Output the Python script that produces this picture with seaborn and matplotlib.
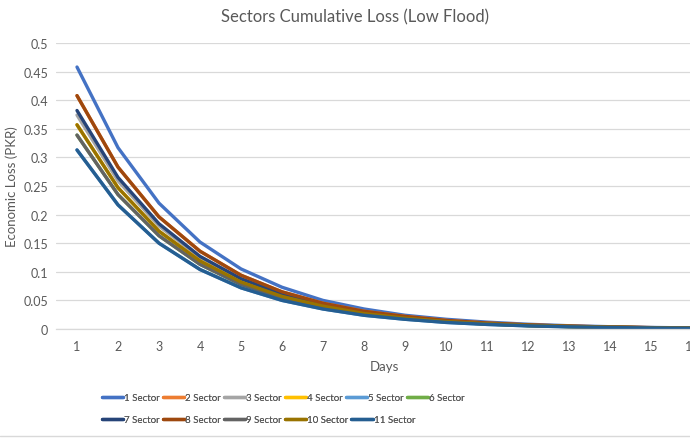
import matplotlib
matplotlib.use("Agg")
import matplotlib.pyplot as plt
from matplotlib.lines import Line2D
import seaborn as sns
import pandas as pd

# Daily cumulative economic loss per sector (low flood scenario)
days = list(range(1, 17))

sector_1 = [0.458, 0.317, 0.220, 0.152, 0.105, 0.073, 0.050, 0.035, 0.024, 0.017, 0.012, 0.0083, 0.0057, 0.0040, 0.0027, 0.0019]
sector_2 = [0.408, 0.283, 0.196, 0.136, 0.094, 0.065, 0.045, 0.031, 0.022, 0.015, 0.0104, 0.0072, 0.0050, 0.0035, 0.0024, 0.0017]
sector_3 = [0.374, 0.259, 0.180, 0.125, 0.086, 0.060, 0.041, 0.029, 0.020, 0.0138, 0.0095, 0.0066, 0.0046, 0.0032, 0.0022, 0.0015]
sector_4 = [0.357, 0.247, 0.171, 0.119, 0.082, 0.057, 0.040, 0.027, 0.019, 0.013, 0.0091, 0.0063, 0.0044, 0.0030, 0.0021, 0.0015]
sector_5 = [0.313, 0.217, 0.150, 0.104, 0.072, 0.050, 0.035, 0.024, 0.017, 0.0115, 0.0080, 0.0055, 0.0038, 0.0026, 0.0018, 0.0013]
sector_6 = [0.339, 0.235, 0.163, 0.113, 0.078, 0.054, 0.038, 0.026, 0.018, 0.0125, 0.0087, 0.0060, 0.0042, 0.0029, 0.0020, 0.0014]
sector_7 = [0.382, 0.265, 0.184, 0.127, 0.088, 0.061, 0.042, 0.029, 0.020, 0.014, 0.0097, 0.0067, 0.0047, 0.0032, 0.0022, 0.0016]
sector_8 = [0.408, 0.283, 0.196, 0.136, 0.094, 0.065, 0.045, 0.031, 0.022, 0.015, 0.0104, 0.0072, 0.0050, 0.0035, 0.0024, 0.0017]
sector_9 = [0.339, 0.235, 0.163, 0.113, 0.078, 0.054, 0.038, 0.026, 0.018, 0.0125, 0.0087, 0.0060, 0.0042, 0.0029, 0.0020, 0.0014]
sector_10 = [0.357, 0.247, 0.171, 0.119, 0.082, 0.057, 0.040, 0.027, 0.019, 0.013, 0.0091, 0.0063, 0.0044, 0.0030, 0.0021, 0.0015]
sector_11 = [0.313, 0.217, 0.150, 0.104, 0.072, 0.050, 0.035, 0.024, 0.017, 0.0115, 0.0080, 0.0055, 0.0038, 0.0026, 0.0018, 0.0013]

sector_names = ["1 Sector", "2 Sector", "3 Sector", "4 Sector", "5 Sector", "6 Sector",
                "7 Sector", "8 Sector", "9 Sector", "10 Sector", "11 Sector"]
sector_values = [sector_1, sector_2, sector_3, sector_4, sector_5, sector_6,
                 sector_7, sector_8, sector_9, sector_10, sector_11]

colors = ["#4472C4", "#ED7D31", "#A5A5A5", "#FFC000", "#5B9BD5", "#70AD47",
          "#264478", "#9E480E", "#636363", "#997300", "#255E91"]

rows = []
for name, vals in zip(sector_names, sector_values):
    for d, v in zip(days, vals):
        rows.append({"Days": d, "Loss": v, "Sector": name})
df = pd.DataFrame(rows)

sns.set_theme(style="white")
plt.rcParams["font.family"] = ["Lato", "DejaVu Sans"]

W, H = 690, 439
fig = plt.figure(figsize=(W / 100, H / 100), dpi=100)
# plot area runs past the right edge of the canvas
left_px, right_px, top_px, bottom_px = 56.5, 712.5, 44, 330
ax = fig.add_axes([left_px / W, 1 - bottom_px / H,
                   (right_px - left_px) / W, (bottom_px - top_px) / H])

sns.lineplot(data=df, x="Days", y="Loss", hue="Sector", hue_order=sector_names,
             palette=colors, linewidth=2.4, ax=ax, legend=False)

ax.set_xlim(0.5, 16.5)
ax.set_ylim(0, 0.5)
ax.set_xticks(days)
ax.set_xticklabels([str(d) for d in days])
yt = [i * 0.05 for i in range(11)]
ax.set_yticks(yt)
ax.set_yticklabels(["0", "0.05", "0.1", "0.15", "0.2", "0.25", "0.3", "0.35", "0.4", "0.45", "0.5"])
ax.grid(axis="y", color="#D9D9D9", linewidth=0.9)
ax.set_axisbelow(True)
for s in ["top", "right", "left"]:
    ax.spines[s].set_visible(False)
ax.spines["bottom"].set_color("#D9D9D9")
ax.spines["bottom"].set_linewidth(0.9)
ax.tick_params(axis="both", length=0, labelsize=9, colors="#595959")
ax.tick_params(axis="x", pad=8)
ax.tick_params(axis="y", pad=6)

ax.set_xlabel("Days", fontsize=9.5, color="#595959", labelpad=6)
ax.set_ylabel("")
fig.text(12 / W, 1 - 187 / H, "Economic Loss (PKR)", rotation=90, ha="center", va="center",
         fontsize=9.5, color="#595959")
fig.text(355 / W, 1 - 17 / H, "Sectors Cumulative Loss (Low Flood)", ha="center", va="center",
         fontsize=12, color="#595959")

# two-row legend, one legend box per row so both rows start at the same x
legend_kw = dict(frameon=False, fontsize=7.0, handlelength=2.2, handletextpad=0.1,
                 columnspacing=0.3, borderpad=0, labelcolor="#595959", loc="center left")
row_groups = [list(range(0, 6)), list(range(6, 11))]
row_y = [399, 421]
for idx, ypx in zip(row_groups, row_y):
    hs = [Line2D([0], [0], color=colors[i], linewidth=2.4) for i in idx]
    ls = [sector_names[i] for i in idx]
    leg = fig.legend(hs, ls, ncol=len(idx), bbox_to_anchor=(97 / W, 1 - ypx / H), **legend_kw)
    fig.add_artist(leg)

fig.add_artist(Line2D([0, 1], [1 - 437 / H, 1 - 437 / H], transform=fig.transFigure,
                      color="#D9D9D9", linewidth=1.0))

fig.savefig("out.png", dpi=100)
